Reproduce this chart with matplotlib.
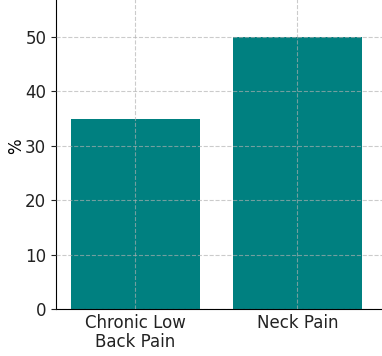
import matplotlib
matplotlib.use('Agg')
import matplotlib.pyplot as plt

categories = ["Chronic Low\nBack Pain", "Neck Pain"]
values = [35, 50]

fig = plt.figure(figsize=(3.82, 3.56), dpi=100)
# axes runs past the top/right edge like the cropped original
ax = fig.add_axes([56 / 382, 47 / 356, 338.6 / 382, 326.4 / 356])

ax.bar(categories, values, width=0.8, color='#008080', linewidth=0)
ax.set_xlim(-0.49, 1.6)
ax.set_ylim(0, 60)
ax.set_yticks([0, 10, 20, 30, 40, 50])
ax.set_ylabel('%', fontsize=12, labelpad=0)
ax.tick_params(axis='both', labelsize=12, colors='#222222')
ax.tick_params(axis='x', length=0)
for lbl in ax.get_xticklabels():
    lbl.set_linespacing(1.05)

ax.grid(True, linestyle='--', color='#b0b0b0', alpha=0.65, linewidth=0.8)
ax.set_axisbelow(False)
ax.spines['top'].set_visible(False)
ax.spines['right'].set_visible(False)

fig.savefig('out.png', dpi=100)
